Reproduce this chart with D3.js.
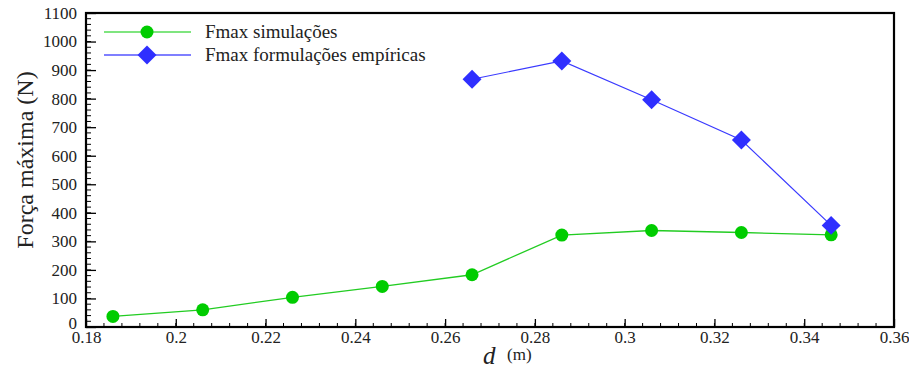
<!DOCTYPE html>
<html>
<head>
<meta charset="utf-8">
<script src="https://cdn.jsdelivr.net/npm/d3@7"></script>
<style>
  body { margin: 0; background: #fff; }
  svg { display: block; }
  svg text { font-family: "Liberation Serif", "Times New Roman", serif !important; }
</style>
</head>
<body>
<div id="chart"></div>
<script>
// data
const d_sim = [0.186, 0.206, 0.226, 0.246, 0.266, 0.286, 0.306, 0.326, 0.346];
const fmax_sim = [37, 60, 104, 142, 183, 322, 338, 331, 323];
const d_emp = [0.266, 0.286, 0.306, 0.326, 0.346];
const fmax_emp = [868, 932, 796, 655, 356];
const xTicks = [0.18, 0.2, 0.22, 0.24, 0.26, 0.28, 0.3, 0.32, 0.34, 0.36];
const yTicks = [0, 100, 200, 300, 400, 500, 600, 700, 800, 900, 1000, 1100];
const legendLabels = ['Fmax simulações', 'Fmax formulações empíricas'];

const W = 909, H = 369;
const margin = {t: 13, r: 15, b: 42, l: 86};
const width = W - margin.l - margin.r;
const height = H - margin.t - margin.b;
const serif = '"Liberation Serif", "Times New Roman", serif';

const svg = d3.select('#chart').append('svg').attr('width', W).attr('height', H);
const g = svg.append('g').attr('transform', `translate(${margin.l},${margin.t})`);

const x = d3.scaleLinear([0.18, 0.36], [0, width]);
const y = d3.scaleLinear([0, 1100], [height, 0]);

// minor ticks
const xMinor = d3.range(0, 46).map(i => 0.18 + i * 0.004);
const yMinor = d3.range(0, 56).map(i => i * 20);

g.append('g').selectAll('line').data(xMinor).join('line')
  .attr('x1', d => x(d)).attr('x2', d => x(d))
  .attr('y1', height).attr('y2', height - 4)
  .attr('stroke', '#000').attr('stroke-width', 1);
g.append('g').selectAll('line').data(yMinor).join('line')
  .attr('x1', 0).attr('x2', 5)
  .attr('y1', d => y(d)).attr('y2', d => y(d))
  .attr('stroke', '#000').attr('stroke-width', 1);

// major ticks via axes
const xAxis = g.append('g').attr('transform', `translate(0,${height})`)
  .call(d3.axisBottom(x).tickValues(xTicks).tickSizeInner(-8).tickSizeOuter(0).tickPadding(5)
    .tickFormat(d => String(+d.toFixed(2))));
xAxis.select('.domain').remove();
xAxis.attr('font-family', null);
xAxis.selectAll('.tick line').attr('stroke-width', 1.3);
xAxis.selectAll('.tick text').attr('font-size', 17).attr('fill', '#222')
  .style('font-family', serif).attr('dy', '0.66em');

const yAxis = g.append('g')
  .call(d3.axisLeft(y).tickValues(yTicks).tickSizeInner(-10).tickSizeOuter(0).tickPadding(9)
    .tickFormat(d3.format('d')));
yAxis.select('.domain').remove();
yAxis.attr('font-family', null);
yAxis.selectAll('.tick line').attr('stroke-width', 1.3);
yAxis.selectAll('.tick text').attr('font-size', 17).attr('fill', '#222')
  .style('font-family', serif);
// zero label nudged up so it clears 0.18
yAxis.selectAll('.tick text').filter(d => d === 0).attr('dy', '0.1em');

// frame
g.append('rect').attr('x', 0).attr('y', 0).attr('width', width).attr('height', height)
  .attr('fill', 'none').attr('stroke', '#000').attr('stroke-width', 2.2);

// lines
const line = d3.line().x(d => x(d[0])).y(d => y(d[1]));
const sim = d_sim.map((d, i) => [d, fmax_sim[i]]);
const emp = d_emp.map((d, i) => [d, fmax_emp[i]]);

g.append('path').attr('d', line(sim)).attr('fill', 'none').attr('stroke', '#22cc22').attr('stroke-width', 1.3);
g.append('path').attr('d', line(emp)).attr('fill', 'none').attr('stroke', '#3a3aff').attr('stroke-width', 1.2);

g.selectAll('.c').data(sim).join('circle').attr('class', 'c')
  .attr('cx', d => x(d[0])).attr('cy', d => y(d[1])).attr('r', 6.5).attr('fill', '#00cc00');
const diamond = d3.symbol(d3.symbolSquare, 180);
g.selectAll('.dm').data(emp).join('path').attr('class', 'dm')
  .attr('d', diamond)
  .attr('transform', d => `translate(${x(d[0])},${y(d[1])}) rotate(45)`)
  .attr('fill', '#2f2fff');

// legend
const lg = svg.append('g');
const legendY = [32, 55];
lg.append('line').attr('x1', 104).attr('x2', 191).attr('y1', legendY[0]).attr('y2', legendY[0])
  .attr('stroke', '#55dd55').attr('stroke-width', 1.3);
lg.append('circle').attr('cx', 147).attr('cy', legendY[0]).attr('r', 6.5).attr('fill', '#00cc00');
lg.append('line').attr('x1', 104).attr('x2', 191).attr('y1', legendY[1]).attr('y2', legendY[1])
  .attr('stroke', '#5555ff').attr('stroke-width', 1.3);
lg.append('path').attr('d', diamond).attr('transform', `translate(147,${legendY[1]}) rotate(45)`)
  .attr('fill', '#2f2fff');
lg.selectAll('text').data(legendLabels).join('text')
  .attr('x', 205).attr('y', (d, i) => legendY[i]).attr('dy', '0.32em')
  .attr('font-size', 19).attr('fill', '#222').style('font-family', serif).text(d => d);

// axis titles
svg.append('text').attr('transform', 'translate(33,160) rotate(-90)')
  .attr('text-anchor', 'middle').attr('font-size', 24).attr('fill', '#222')
  .style('font-family', serif).text('Força máxima (N)');
svg.append('text').attr('x', 483).attr('y', 364).attr('font-size', 25).attr('font-style', 'italic')
  .attr('fill', '#222').style('font-family', serif).text('d');
svg.append('text').attr('x', 507).attr('y', 360).attr('font-size', 17).attr('fill', '#222')
  .style('font-family', serif).text('(m)');
</script>
</body>
</html>
